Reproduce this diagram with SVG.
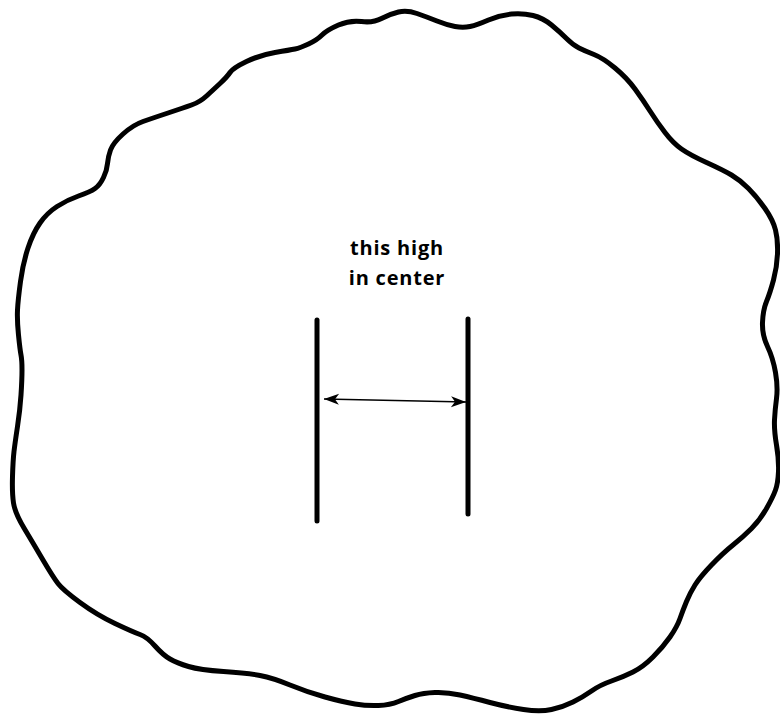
<svg xmlns="http://www.w3.org/2000/svg" width="780" height="721" viewBox="0 0 780 721">
<style>
.outline{fill:none;stroke:#000;stroke-width:5;stroke-linejoin:round;stroke-linecap:round}
.bar{stroke:#000;stroke-width:5;stroke-linecap:round}
.conn{stroke:#000;stroke-width:1.4;fill:none}
.lbl{font-family:"Open Sans","DejaVu Sans",sans-serif;font-weight:700;font-size:20px;letter-spacing:0.8px;fill:#000;text-anchor:middle}
</style>
<defs>
<marker id="ah" markerUnits="userSpaceOnUse" markerWidth="20" markerHeight="14" viewBox="-16 -7 17 14" refX="0" refY="0" orient="auto-start-reverse">
<path d="M0,0 L-15,-5.5 L-11,0 L-15,5.5 Z" fill="#000"/>
</marker>
</defs>
<rect width="780" height="721" fill="#fff"/>
<g id="blob">
<path class="outline" d="M381.5,18.5 Q390,14 398.5,12 Q407,10 417,13.5 Q427,17 437,21 Q447,25 455,26.5 Q463,28 470,26.5 Q477,25 488.5,20 Q500,15 511.5,14 Q523,13 533,15.5 Q543,18 551.5,25 Q560,32 566.5,38.5 Q573,45 579,48 Q585,51 594,54.5 Q603,58 615,68 Q627,78 635,89 Q643,100 650,111 Q657,122 665,132.5 Q673,143 681.5,149 Q690,155 706.5,162.5 Q723,170 731.5,175 Q740,180 748.5,188.5 Q757,197 765,208.5 Q773,220 775.5,230 Q778,240 777.5,253.5 Q777,267 773.5,280 Q770,293 766.5,301.5 Q763,310 762.5,322.5 Q762,335 767.5,346.5 Q773,358 775.5,372.5 Q778,387 776.5,398.5 Q775,410 774.5,420 Q774,430 776.5,445 Q779,460 778.5,471.5 Q778,483 775.5,490 Q773,497 766.5,508.5 Q760,520 751.5,528.5 Q743,537 733,545 Q723,553 711.5,565 Q700,577 695,585 Q690,593 686.5,601.5 Q683,610 680,618.5 Q677,627 670,637 Q663,647 653,657 Q643,667 633,672 Q623,677 611.5,681 Q600,685 591.5,691 Q583,697 573,702 Q563,707 551.5,709.5 Q540,712 523.5,709.5 Q507,707 490,702.5 Q473,698 460,695 Q447,692 435,692.5 Q423,693 415,695.5 Q407,698 398.5,701.5 Q390,705 378.5,705.5 Q367,706 355,704 Q343,702 325,697 Q307,692 290,685 Q273,678 260,675.5 Q247,673 223.5,671.5 Q200,670 188.5,666.5 Q177,663 170,659 Q163,655 155,646 Q147,637 140,634.5 Q133,632 115,623.5 Q97,615 80,602.5 Q63,590 58,583.5 Q53,577 43,560 Q33,543 24,528 Q15,513 13.5,503 Q12,493 12.5,476.5 Q13,460 14,451.5 Q15,443 17.5,426.5 Q20,410 21,395 Q22,380 22,370 Q22,360 21,355 Q20,350 18.5,335 Q17,320 17.5,310 Q18,300 20.5,281.5 Q23,263 28,248 Q33,233 40,223 Q47,213 57,206.5 Q67,200 78.5,196 Q90,192 95,188.5 Q100,185 103.5,177.5 Q107,170 107.5,163.5 Q108,157 110.5,150 Q113,143 123,134 Q133,125 143,121.5 Q153,118 168,113 Q183,108 191.5,105 Q200,102 206.5,96 Q213,90 220,83.5 Q227,77 230,72.5 Q233,68 246.5,61.5 Q260,55 275,52.5 Q290,50 295,49 Q300,48 308.5,44 Q317,40 322,35 Q327,30 338.5,25 Q350,20 361.5,21.5 Q373,23 381.5,18.5 Z"/>
</g>
<g id="left-bar"><line class="bar" x1="317" y1="320" x2="317" y2="521"/></g>
<g id="right-bar"><line class="bar" x1="468" y1="319" x2="468" y2="514"/></g>
<g id="label">
<text class="lbl" x="397" y="255">this high</text>
<text class="lbl" x="397" y="285">in center</text>
</g>
<g id="connectors">
<line class="conn" x1="324" y1="399" x2="466" y2="402" marker-start="url(#ah)" marker-end="url(#ah)"/>
</g>
</svg>
